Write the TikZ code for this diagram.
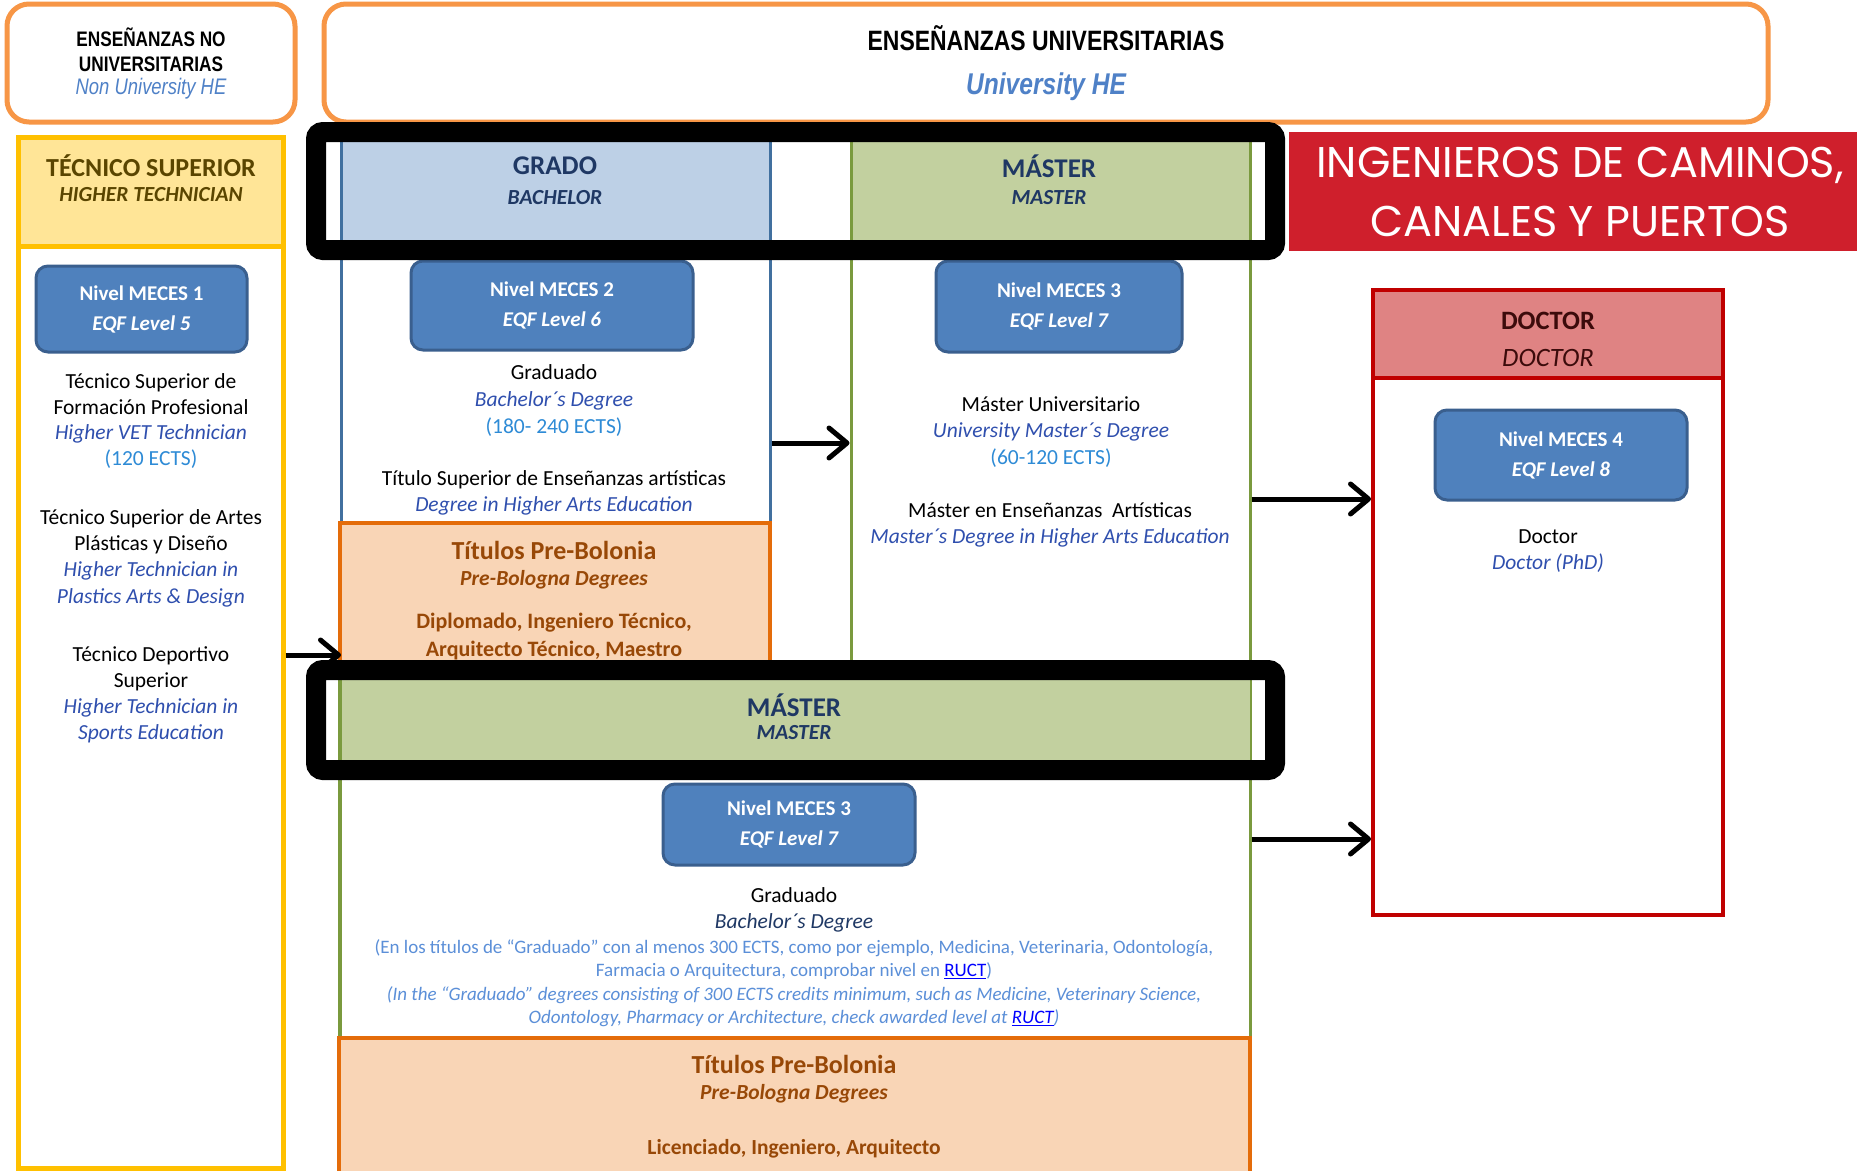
\documentclass[tikz,border=0pt]{standalone}
\usepackage{fontspec}
\setmainfont{Carlito}
\newfontfamily\nrw[FakeStretch=0.82]{Liberation Sans}
\newfontfamily\pop{Poppins}
\usetikzlibrary{arrows.meta}
\definecolor{orL}{HTML}{F79646}
\definecolor{yelB}{HTML}{FFC000}
\definecolor{yelF}{HTML}{FFE597}
\definecolor{yelT}{HTML}{5A4500}
\definecolor{grF}{HTML}{BDD0E6}
\definecolor{grB}{HTML}{41709F}
\definecolor{navyT}{HTML}{1F3864}
\definecolor{maF}{HTML}{C2D09F}
\definecolor{maB}{HTML}{7A9A3E}
\definecolor{mecF}{HTML}{4F81BD}
\definecolor{mecB}{HTML}{3A5F8E}
\definecolor{peF}{HTML}{F9D5B6}
\definecolor{peB}{HTML}{E46C0A}
\definecolor{peT}{HTML}{984807}
\definecolor{engB}{HTML}{2F4FAE}
\definecolor{ectsB}{HTML}{2E8BD6}
\definecolor{nonB}{HTML}{4F81C7}
\definecolor{noteB}{HTML}{5B8FD8}
\definecolor{linkB}{HTML}{0000FF}
\definecolor{docF}{HTML}{DF8383}
\definecolor{docB}{HTML}{C00000}
\definecolor{docT}{HTML}{3C0B0B}
\definecolor{banR}{HTML}{CF1F2C}
\newcommand\setfs[2]{\fontsize{#1}{#2}\selectfont}
\begin{document}
\begin{tikzpicture}[x=1pt,y=-1pt,
  txt/.style={align=center, inner sep=0pt, outer sep=0pt},
  area/.style={anchor=north west, inner sep=0pt, outer sep=0pt},
  meces/.style={area, draw=mecB, fill=mecF, line width=3pt, rounded corners=12pt},
  mtext/.style={txt, text=white, font=\bfseries\setfs{21}{30}},
  arr/.style={line width=5pt, -{Straight Barb[length=18pt,width=30pt,round]}},
  frame/.style={area, draw=black, line width=20pt, rounded corners=7pt}]
\useasboundingbox (0,0) rectangle (1863,1170);
\fill[white] (0,0) rectangle (1863,1170);

% top boxes
\node[area, draw=orL, line width=5pt, rounded corners=22pt, minimum width=288, minimum height=118] (nonU) at (7,4) {};
\node[txt, font=\nrw\bfseries\setfs{21}{25.5}] (nonUT) at (151,50) {ENSEÑANZAS NO\\UNIVERSITARIAS};
\node[txt, font=\nrw\itshape\setfs{22.5}{25}, text=nonB] (nonUS) at (151,89) {Non University HE};
\node[area, draw=orL, line width=5pt, rounded corners=22pt, minimum width=1444, minimum height=118] (univ) at (324,4) {};
\node[txt, font=\nrw\bfseries\setfs{28}{30}] (univT) at (1046,38) {ENSEÑANZAS UNIVERSITARIAS};
\node[txt, font=\nrw\bfseries\itshape\setfs{30}{32}, text=nonB] (univS) at (1046,87) {University HE};

% tecnico superior column
\fill[yelF] (18,137) rectangle (283,246);
\node[area, draw=yelB, line width=5pt, minimum width=265, minimum height=1031] (tecCol) at (18,137) {};
\draw[yelB, line width=5pt] (tecCol.west |- 0,246) -- (tecCol.east |- 0,246);
\node[txt, font=\bfseries\setfs{26}{28}, text=yelT] (tecH) at (151,166) {TÉCNICO SUPERIOR};
\node[txt, font=\bfseries\itshape\setfs{21.5}{24}, text=yelT] (tecH2) at (151,195) {HIGHER TECHNICIAN};
\node[meces, minimum width=211, minimum height=86] (m1) at (36,266) {};
\node[mtext] (m1t) at (m1.center) {Nivel MECES 1\\\itshape EQF Level 5};
\node[txt, font=\setfs{21.5}{25.7}] (tb1) at (151,421) {Técnico Superior de\\Formación Profesional\\{\color{engB}\itshape Higher VET Technician}\\{\color{ectsB}(120 ECTS)}};
\node[txt, font=\setfs{21.5}{26.3}] (tb2) at (151,558) {Técnico Superior de Artes\\Plásticas y Diseño\\{\color{engB}\itshape Higher Technician in}\\{\color{engB}\itshape Plastics Arts \& Design}};
\node[txt, font=\setfs{21.5}{26}] (tb3) at (151,695) {Técnico Deportivo\\Superior\\{\color{engB}\itshape Higher Technician in}\\{\color{engB}\itshape Sports Education}};

% grado column
\node[area, minimum width=429, minimum height=383] (gradoCol) at (341,140) {};
\fill[grF] (341,140) rectangle (770,241);
\draw[grB, line width=3pt] (gradoCol.north west) -- (gradoCol.south west);
\draw[grB, line width=3pt] (gradoCol.north east) -- (gradoCol.south east);
\node[txt, font=\bfseries\setfs{27}{28}, text=navyT] (grH) at (555,166) {GRADO};
\node[txt, font=\bfseries\itshape\setfs{21.5}{24}, text=navyT] (grH2) at (555,198) {BACHELOR};
\node[meces, minimum width=282, minimum height=89] (m2) at (411,261) {};
\node[mtext] (m2t) at (m2.center) {Nivel MECES 2\\\itshape EQF Level 6};
\node[txt, font=\setfs{21.5}{27}] (gb1) at (554,401) {Graduado\\{\color{engB}\itshape Bachelor´s Degree}\\{\color{ectsB}(180- 240 ECTS)}};
\node[txt, font=\setfs{21.5}{26}] (gb2) at (554,493) {Título Superior de Enseñanzas artísticas\\{\color{engB}\itshape Degree in Higher Arts Education}};
\node[area, draw=peB, fill=peF, line width=4pt, minimum width=430, minimum height=157] (pb1) at (340,523) {};
\node[txt, font=\bfseries\setfs{26}{28}, text=peT] (pb1a) at (554,550) {Títulos Pre-Bolonia};
\node[txt, font=\bfseries\itshape\setfs{21.5}{24}, text=peT] (pb1b) at (554,580) {Pre-Bologna Degrees};
\node[txt, font=\bfseries\setfs{22}{28}, text=peT] (pb1c) at (554,637) {Diplomado, Ingeniero Técnico,\\Arquitecto Técnico, Maestro};

% master top column
\node[area, minimum width=399, minimum height=520] (masterCol) at (851,140) {};
\fill[maF] (851,140) rectangle (1250,241);
\draw[maB, line width=3pt] (masterCol.north west) -- (masterCol.south west);
\draw[maB, line width=3pt] (masterCol.north east) -- (1250,1038);
\node[txt, font=\bfseries\setfs{27}{28}, text=navyT] (maH) at (1049,166) {MÁSTER};
\node[txt, font=\bfseries\itshape\setfs{21.5}{24}, text=navyT] (maH2) at (1049,198) {MASTER};
\node[meces, minimum width=246, minimum height=91] (m3) at (936,261) {};
\node[mtext] (m3t) at (m3.center) {Nivel MECES 3\\\itshape EQF Level 7};
\node[txt, font=\setfs{21.5}{26.5}] (mb1) at (1051,432) {Máster Universitario\\{\color{engB}\itshape University Master´s Degree}\\{\color{ectsB}(60-120 ECTS)}};
\node[txt, font=\setfs{21.5}{26}] (mb2) at (1050,525) {Máster en Enseñanzas\ \ Artísticas\\{\color{engB}\itshape Master´s Degree in Higher Arts Education}};

% lower master
\node[area, minimum width=910, minimum height=278] (masterLow) at (340,760) {};
\fill[maF] (340,679) rectangle (1250,760);
\draw[maB, line width=4pt] (340,679) -- (masterLow.south west);
\node[txt, font=\bfseries\setfs{27}{28}, text=navyT] (mlH) at (794,705) {MÁSTER};
\node[txt, font=\bfseries\itshape\setfs{21.5}{24}, text=navyT] (mlH2) at (794,733) {MASTER};
\node[meces, minimum width=252, minimum height=81] (m3b) at (663,784) {};
\node[mtext] (m3bt) at (m3b.center) {Nivel MECES 3\\\itshape EQF Level 7};
\node[txt, font=\setfs{21.5}{26}] (lb1) at (794,910) {Graduado\\{\color{navyT}\itshape Bachelor´s Degree}};
\node[txt, font=\setfs{19}{23.5}, text=noteB] (note) at (794,983) {(En los títulos de “Graduado” con al menos 300 ECTS, como por ejemplo, Medicina, Veterinaria, Odontología,\\Farmacia o Arquitectura, comprobar nivel en {\color{linkB}\underline{RUCT}})\\{\itshape (In the “Graduado” degrees consisting of 300 ECTS credits minimum, such as Medicine, Veterinary Science,}\\{\itshape Odontology, Pharmacy or Architecture, check awarded level at {\color{linkB}\underline{RUCT}})}};
\node[area, draw=peB, fill=peF, line width=4pt, minimum width=911, minimum height=140] (pb2) at (339,1038) {};
\node[txt, font=\bfseries\setfs{26}{28}, text=peT] (pb2a) at (794,1064) {Títulos Pre-Bolonia};
\node[txt, font=\bfseries\itshape\setfs{21.5}{24}, text=peT] (pb2b) at (794,1094) {Pre-Bologna Degrees};
\node[txt, font=\bfseries\setfs{21.5}{24}, text=peT] (pb2c) at (794,1149) {Licenciado, Ingeniero, Arquitecto};

% doctor
\node[area, minimum width=350, minimum height=625] (doctor) at (1373,290) {};
\fill[docF] (1373,290) rectangle (1723,378);
\draw[docB, line width=4pt] (doctor.north west) rectangle (doctor.south east);
\draw[docB, line width=4pt] (doctor.west |- 0,378) -- (doctor.east |- 0,378);
\node[txt, font=\bfseries\setfs{26.5}{28}, text=docT] (dH) at (1548,321) {DOCTOR};
\node[txt, font=\itshape\setfs{26.5}{28}, text=docT] (dH2) at (1548,358) {DOCTOR};
\node[meces, minimum width=252, minimum height=90] (m4) at (1435,410) {};
\node[mtext] (m4t) at (m4.center) {Nivel MECES 4\\\itshape EQF Level 8};
\node[txt, font=\setfs{21.5}{26}] (db1) at (1548,551) {Doctor\\{\color{engB}\itshape Doctor (PhD)}};

% banner
\node[area, fill=banR, minimum width=568, minimum height=119] (banner) at (1289,132) {};
\node[txt, font=\pop\setfs{43}{59}, text=white] (banT) at (1580,192) {INGENIEROS DE CAMINOS,\\CANALES Y PUERTOS};

% arrows
\draw[arr] ([xshift=2.5pt]tecCol.east |- 0,655) -- (gradoCol.west |- 0,655);
\draw[arr] ([xshift=1.5pt]gradoCol.east |- 0,443) -- ([xshift=-1.5pt]masterCol.west |- 0,443);
\draw[arr] ([xshift=1.5pt]masterCol.east |- 0,499) -- ([xshift=-2pt]doctor.west |- 0,499);
\draw[arr] ([xshift=1.5pt]masterLow.east |- 0,839) -- ([xshift=-2pt]doctor.west |- 0,839);

% black frames
\node[frame, minimum width=959, minimum height=118] (frameTop) at (316,132) {};
\node[frame, minimum width=959, minimum height=100] (frameMid) at (316,670) {};
\end{tikzpicture}
\end{document}
